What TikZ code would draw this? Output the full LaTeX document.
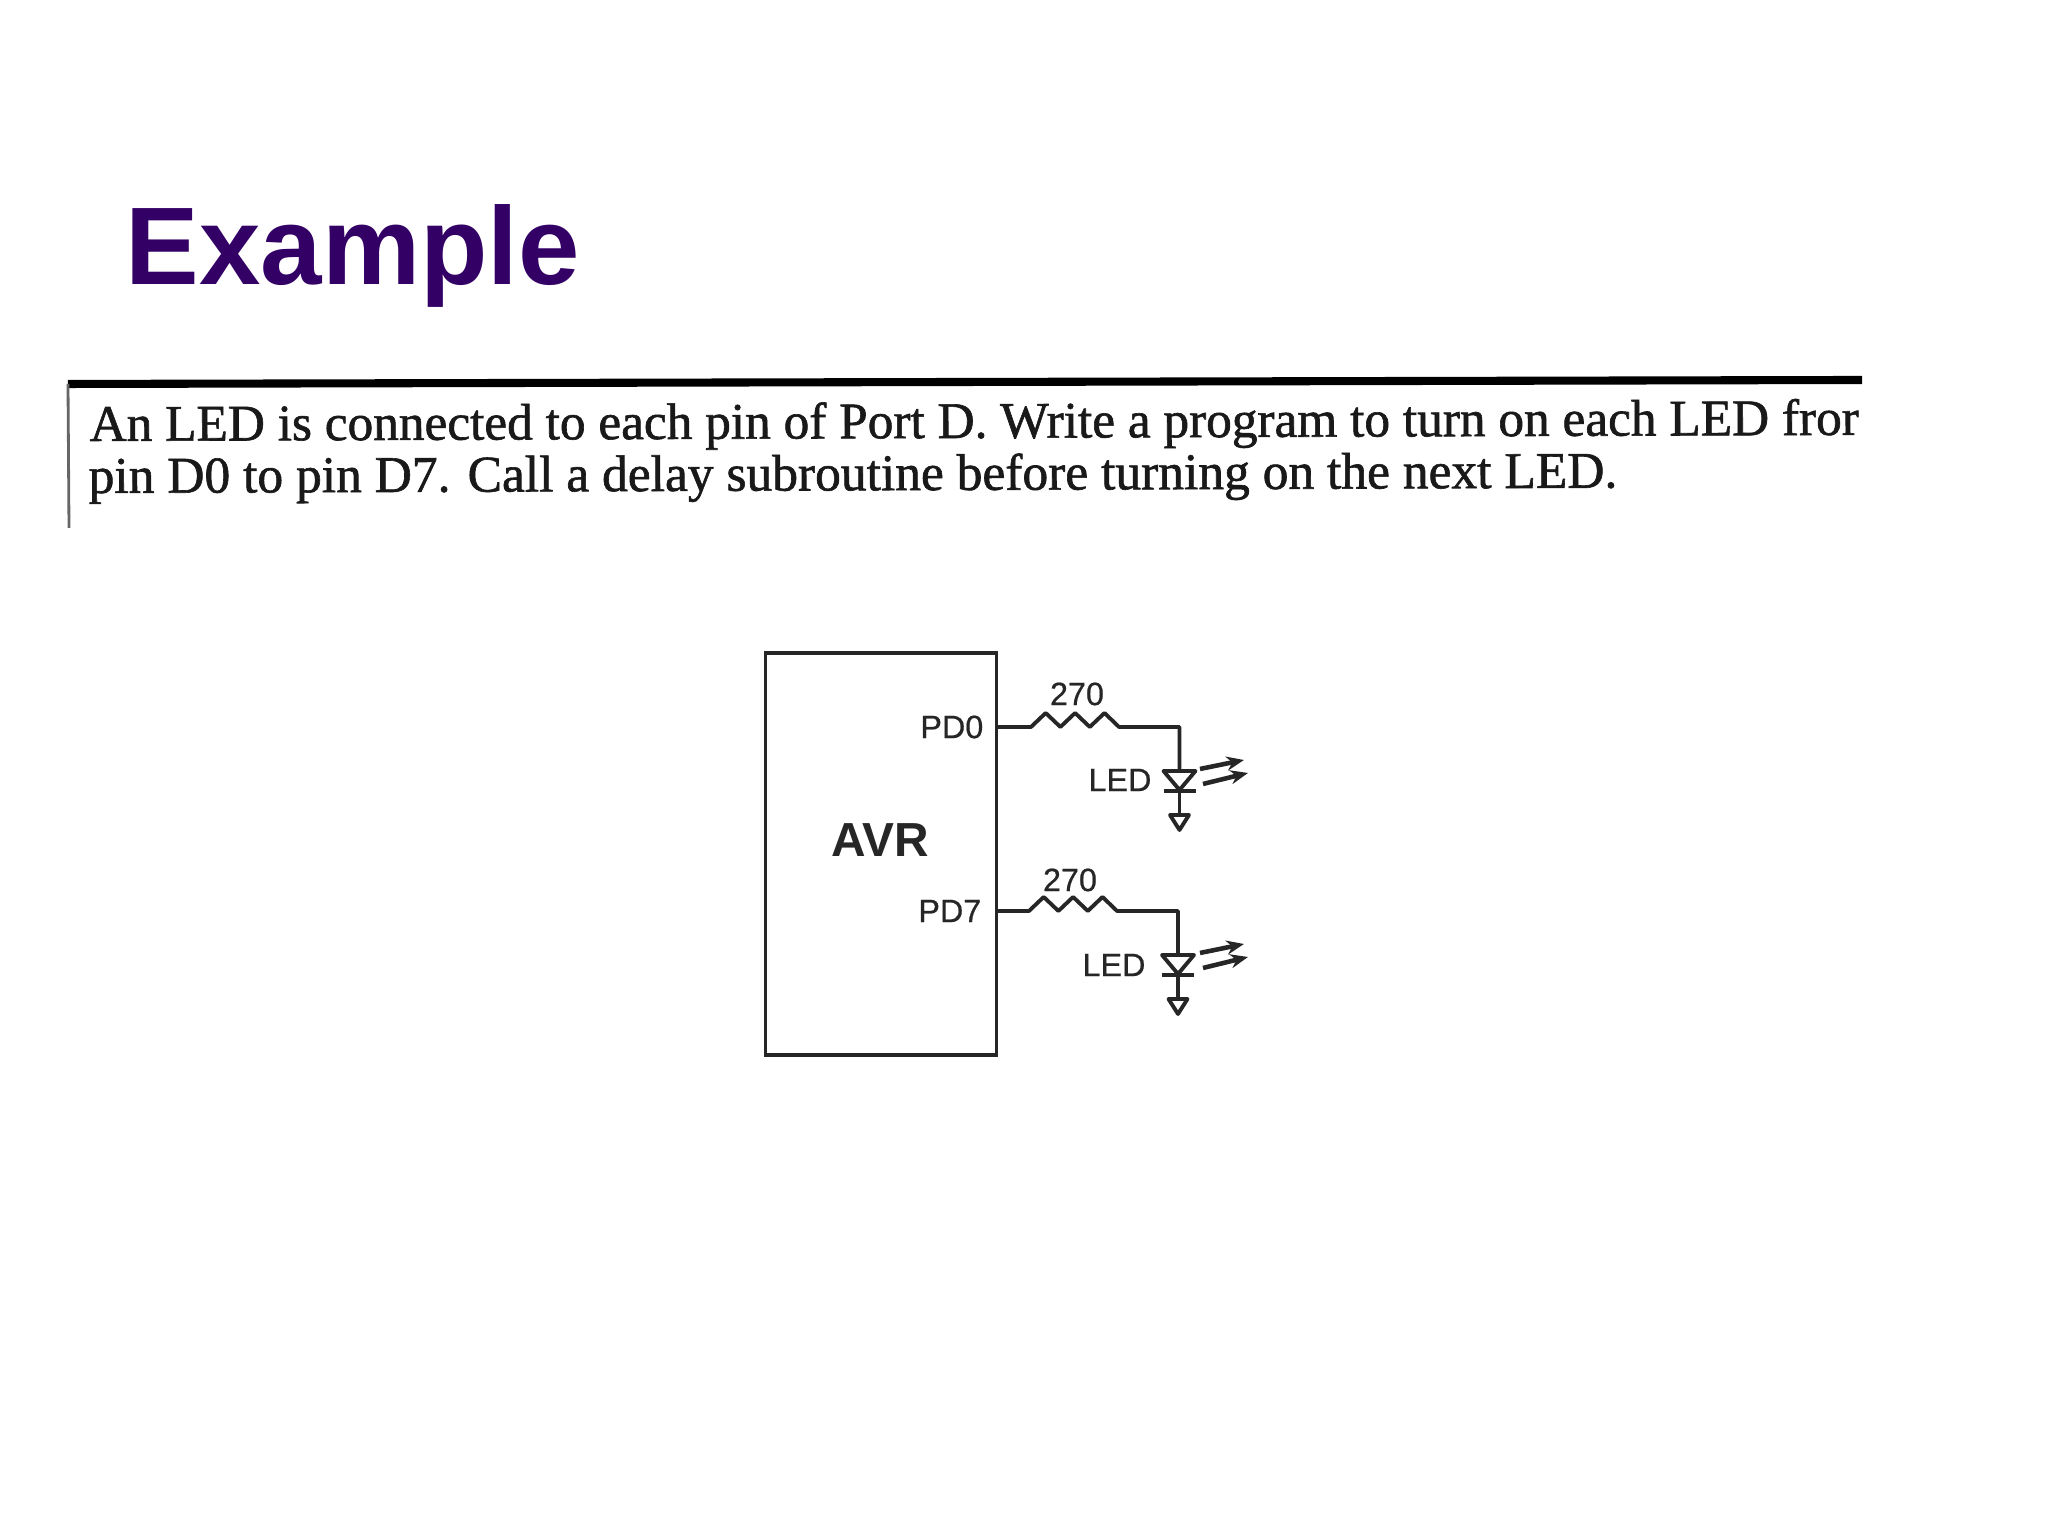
\documentclass[tikz,border=0pt]{standalone}
\usepackage{fontspec}
\setmainfont{Liberation Serif}[FakeBold=1.2]
\newfontfamily\arialfont{Liberation Sans}
\newfontfamily\labelfont{Liberation Sans}[FakeBold=0.6]
\usetikzlibrary{arrows.meta}
\definecolor{titlepurple}{HTML}{330066}
\tikzset{
	slidetitle/.style = {anchor=base west, inner sep=0pt, text=titlepurple, font=\arialfont\bfseries\fontsize{31.4}{31.4}\selectfont},
	bodyline/.style = {anchor=base west, inner sep=0pt, rotate=0.2, text=black!90, font=\fontsize{14.6}{14.6}\selectfont},
	pinlabel/.style = {anchor=east, inner sep=0pt, text=black!85, font=\labelfont\fontsize{9.2}{9.2}\selectfont},
	partlabel/.style = {inner sep=0pt, text=black!85, font=\labelfont\fontsize{9.2}{9.2}\selectfont},
	wire/.style = {draw=black!85, line width=1.1pt, line join=round},
	ledray/.style = {draw=black!85, line width=1.3pt, -{Stealth[length=5pt, width=4pt]}},
}
\begin{document}
\begin{tikzpicture}
	\useasboundingbox (0,0) rectangle (20.48,15.36);
	% slide text
	\node [slidetitle] (title) at (1.25, 12.51) {Example};
	\coordinate (ruleL) at (0.68, 11.52);
	\coordinate (ruleR) at (18.62, 11.56);
	\coordinate (ruleB) at (0.69, 10.08);
	\draw [line width=2.3pt, black] (ruleL)--(ruleR);
	\draw [line width=0.8pt, black!60] (ruleL)--(ruleB);
	\node [bodyline] (line1) at (0.89, 10.95) {An LED is connected to each pin of Port D. Write a program to turn on each LED fror};
	\node [bodyline, font=\fontsize{14.65}{14.65}\selectfont] (line2) at (0.88, 10.43) {pin D0 to pin D7. Call a delay subroutine before turning on the next LED.};
	% AVR box
	\node [draw=black!85, line width=1.1pt, minimum width=2.31cm, minimum height=4.02cm, inner sep=0pt] (avr) at (8.81, 6.82) {};
	\node [inner sep=0pt, text=black!85, font=\arialfont\bfseries\fontsize{13.6}{13.6}\selectfont] (avrlabel) at (8.80, 6.96) {AVR};
	\node [pinlabel] (pd0) at (9.84, 8.09) {PD0};
	\node [pinlabel] (pd7) at (9.82, 6.25) {PD7};
	% branch of PD0
	\node [partlabel] (r0) at (10.77, 8.42) {270};
	\node [partlabel] (led0label) at (11.20, 7.56) {LED};
	\coordinate (pin0) at (9.96, 8.09);
	\coordinate (r0a) at (10.31, 8.09);
	\coordinate (r0b) at (11.19, 8.09);
	\coordinate (bend0) at (11.795, 8.09);
	\coordinate (led0) at (11.795, 7.65);
	\coordinate (cath0) at (11.795, 7.45);
	\coordinate (gnd0) at (11.795, 7.21);
	\draw [wire] (pin0)--(r0a)--++(0.147,0.14)--++(0.147,-0.14)--++(0.147,0.14)--++(0.147,-0.14)--++(0.147,0.14)--(r0b)--(bend0)--(led0);
	\draw [wire] (led0)++(-0.16,0)--++(0.32,0)--++(-0.16,-0.19)--cycle;
	\draw [wire] (cath0)++(-0.16,0)--++(0.32,0);
	\draw [wire] (cath0)--(gnd0);
	\draw [wire] (gnd0)++(-0.095,0)--++(0.19,0)--++(-0.095,-0.15)--cycle;
	\draw [ledray] (12.00, 7.67)--(12.44, 7.76);
	\draw [ledray] (12.03, 7.52)--(12.48, 7.63);
	% branch of PD7
	\node [partlabel] (r7) at (10.70, 6.56) {270};
	\node [partlabel] (led7label) at (11.14, 5.71) {LED};
	\coordinate (pin7) at (9.96, 6.25);
	\coordinate (r7a) at (10.29, 6.25);
	\coordinate (r7b) at (11.17, 6.25);
	\coordinate (bend7) at (11.78, 6.25);
	\coordinate (led7) at (11.78, 5.81);
	\coordinate (cath7) at (11.78, 5.61);
	\coordinate (gnd7) at (11.78, 5.37);
	\draw [wire] (pin7)--(r7a)--++(0.147,0.14)--++(0.147,-0.14)--++(0.147,0.14)--++(0.147,-0.14)--++(0.147,0.14)--(r7b)--(bend7)--(led7);
	\draw [wire] (led7)++(-0.16,0)--++(0.32,0)--++(-0.16,-0.19)--cycle;
	\draw [wire] (cath7)++(-0.16,0)--++(0.32,0);
	\draw [wire] (cath7)--(gnd7);
	\draw [wire] (gnd7)++(-0.095,0)--++(0.19,0)--++(-0.095,-0.15)--cycle;
	\draw [ledray] (12.00, 5.83)--(12.44, 5.92);
	\draw [ledray] (12.03, 5.68)--(12.48, 5.79);
\end{tikzpicture}
\end{document}
